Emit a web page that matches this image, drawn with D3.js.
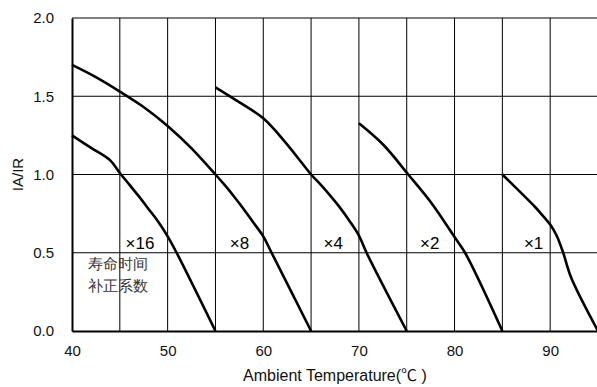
<!DOCTYPE html>
<html>
<head>
<meta charset="utf-8">
<script src="https://cdn.jsdelivr.net/npm/d3@7"></script>
<style>
  html, body { margin: 0; padding: 0; background: #fff; }
  svg { display: block; }
  text { font-family: "Liberation Sans", Arial, sans-serif; }
</style>
</head>
<body>
<svg id="chart" width="597" height="387"></svg>
<script>
// ---- data ----
const xTicks = [40, 50, 60, 70, 80, 90];
const xGrid = [45, 50, 55, 60, 65, 70, 75, 80, 85, 90];
const yTicks = [0, 0.5, 1.0, 1.5, 2.0];
const yTickLabels = ["0.0", "0.5", "1.0", "1.5", "2.0"];

const seriesNames = ["×16", "×8", "×4", "×2", "×1"];
const tempX16 = [40, 42, 44, 45, 46, 47, 48, 49, 50, 50.94, 55];
const valX16  = [1.25, 1.17, 1.09, 1.01, 0.935, 0.86, 0.78, 0.70, 0.605, 0.50, 0];
const tempX8  = [40, 42.4, 45, 47.45, 50, 52.5, 55, 56, 57, 58, 59, 60, 60.87, 65];
const valX8   = [1.70, 1.625, 1.53, 1.433, 1.31, 1.167, 1.0, 0.93, 0.855, 0.775, 0.69, 0.605, 0.50, 0];
const tempX4  = [55, 57.56, 60, 62.4, 65, 66, 67, 68, 69, 70, 70.8, 75];
const valX4   = [1.557, 1.459, 1.359, 1.199, 1.0, 0.935, 0.865, 0.79, 0.705, 0.61, 0.50, 0];
const tempX2  = [70, 72.55, 75.16, 77.6, 80, 81.1, 85];
const valX2   = [1.327, 1.19, 1.0, 0.816, 0.60, 0.50, 0];
const tempX1  = [85, 88.4, 88.9, 90, 90.67, 91.36, 92.2, 95];
const valX1   = [1.0, 0.794, 0.76, 0.68, 0.61, 0.50, 0.34, 0];
const labelTemp = [45.6, 56.5, 66.3, 76.4, 87.25];
const noteLines = ["寿命时间", "补正系数"];
const xTitleMain = "Ambient Temperature(";
const xTitleUnit = "℃";
const xTitleEnd = " )";
const yTitle = "IA/IR";

// ---- chart ----
const svg = d3.select("#chart");
const x = d3.scaleLinear().domain([40, 95]).range([72, 598]);
const y = d3.scaleLinear().domain([0, 2]).range([331, 18]);

// grid
svg.append("g").selectAll("line").data(xGrid).join("line")
  .attr("x1", d => x(d)).attr("x2", d => x(d))
  .attr("y1", y(0)).attr("y2", y(2))
  .attr("stroke", "#000").attr("stroke-width", 1);
svg.append("g").selectAll("line").data(yTicks.filter(d => d > 0)).join("line")
  .attr("x1", x(40)).attr("x2", x(95))
  .attr("y1", d => y(d)).attr("y2", d => y(d))
  .attr("stroke", "#000").attr("stroke-width", 1);

// axes
const xAxis = d3.axisBottom(x).tickValues(xTicks).tickSize(0).tickPadding(14).tickFormat(d3.format("d"));
const gx = svg.append("g").attr("transform", `translate(0,${y(0)})`).call(xAxis);
gx.select(".domain").attr("stroke", "#000").attr("stroke-width", 2);
gx.selectAll("text").attr("font-size", 15).attr("fill", "#111")
  .attr("font-family", "'Liberation Sans', Arial, sans-serif");

const yAxis = d3.axisLeft(y).tickValues(yTicks).tickSize(0).tickPadding(18)
  .tickFormat((d, i) => yTickLabels[i]);
const gy = svg.append("g").attr("transform", `translate(${x(40)},0)`).call(yAxis);
gy.select(".domain").attr("stroke", "#000").attr("stroke-width", 2);
gy.selectAll("text").attr("font-size", 15).attr("fill", "#111")
  .attr("font-family", "'Liberation Sans', Arial, sans-serif");

// curves
const series = [
  [tempX16, valX16], [tempX8, valX8], [tempX4, valX4], [tempX2, valX2], [tempX1, valX1]
];
const line = d3.line().x(d => x(d[0])).y(d => y(d[1])).curve(d3.curveCatmullRom.alpha(0.5));
series.forEach(([t, v]) => {
  svg.append("path")
    .datum(t.map((tt, i) => [tt, v[i]]))
    .attr("d", line)
    .attr("fill", "none")
    .attr("stroke", "#000")
    .attr("stroke-width", 2.6)
    .attr("stroke-linejoin", "round");
});

// series labels
svg.append("g").selectAll("text").data(seriesNames).join("text")
  .attr("x", (d, i) => x(labelTemp[i]))
  .attr("y", y(0.5) - 4)
  .attr("font-size", 17)
  .attr("fill", "#000")
  .text(d => d);

// note
svg.append("g").selectAll("text").data(noteLines).join("text")
  .attr("x", x(41.7))
  .attr("y", (d, i) => 269 + i * 22)
  .attr("font-family", "'Noto Sans CJK SC', sans-serif")
  .attr("font-size", 15)
  .attr("fill", "#333")
  .text(d => d);

// titles
const xt = svg.append("text")
  .attr("x", (x(40) + x(95)) / 2).attr("y", 381)
  .attr("text-anchor", "middle").attr("font-size", 16).attr("fill", "#111");
xt.append("tspan").text(xTitleMain);
xt.append("tspan").attr("font-family", "'Noto Sans CJK SC', sans-serif").text(xTitleUnit);
xt.append("tspan").text(xTitleEnd);
svg.append("text")
  .attr("transform", `translate(23,${(y(0) + y(2)) / 2}) rotate(-90)`)
  .attr("text-anchor", "middle").attr("font-size", 15).attr("fill", "#111")
  .text(yTitle);
</script>
</body>
</html>
